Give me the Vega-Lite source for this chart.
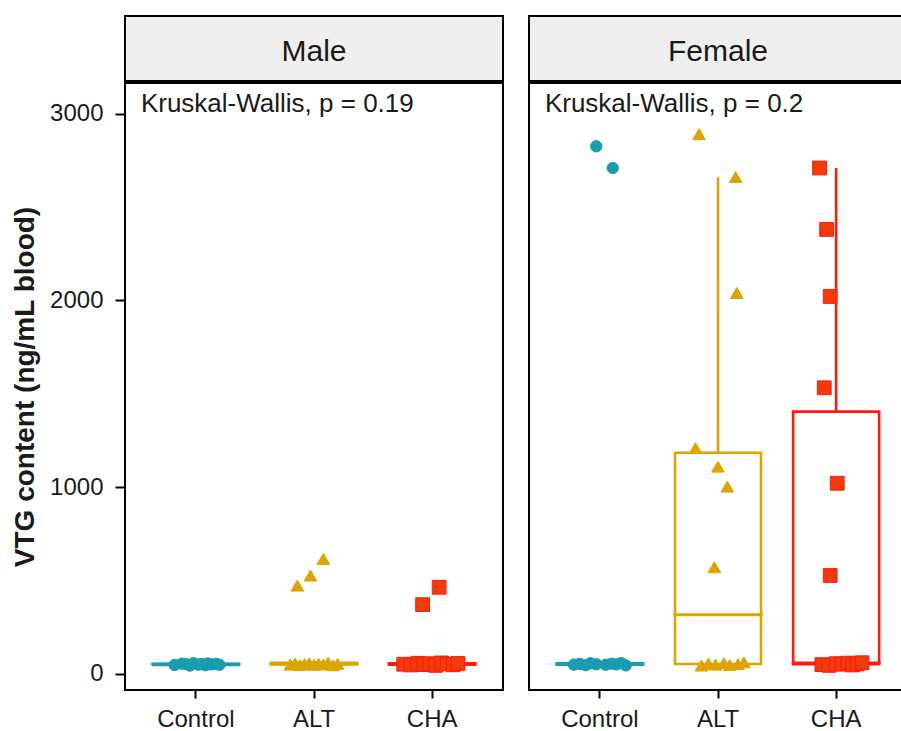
{
  "$schema": "https://vega.github.io/schema/vega-lite/v6.json",
  "padding": {"left": 10, "top": 15, "right": 0, "bottom": 0},
  "background": "white",
  "data": {"values": [
    {"sex": "Male", "group": "Control", "note": "Kruskal-Wallis, p = 0.19"},
    {"sex": "Female", "group": "Control", "note": "Kruskal-Wallis, p = 0.2"},
    {"sex": "Male", "group": "Control", "vtg": 48, "jitter": -0.18},
    {"sex": "Male", "group": "Control", "vtg": 55, "jitter": -0.12},
    {"sex": "Male", "group": "Control", "vtg": 52, "jitter": -0.08},
    {"sex": "Male", "group": "Control", "vtg": 45, "jitter": -0.05},
    {"sex": "Male", "group": "Control", "vtg": 58, "jitter": -0.02},
    {"sex": "Male", "group": "Control", "vtg": 50, "jitter": 0.02},
    {"sex": "Male", "group": "Control", "vtg": 53, "jitter": 0.05},
    {"sex": "Male", "group": "Control", "vtg": 47, "jitter": 0.08},
    {"sex": "Male", "group": "Control", "vtg": 56, "jitter": 0.1},
    {"sex": "Male", "group": "Control", "vtg": 51, "jitter": 0.13},
    {"sex": "Male", "group": "Control", "vtg": 54, "jitter": 0.17},
    {"sex": "Male", "group": "Control", "vtg": 49, "jitter": 0.2},
    {"sex": "Male", "group": "ALT", "vtg": 50, "jitter": -0.2},
    {"sex": "Male", "group": "ALT", "vtg": 56, "jitter": -0.16},
    {"sex": "Male", "group": "ALT", "vtg": 47, "jitter": -0.12},
    {"sex": "Male", "group": "ALT", "vtg": 53, "jitter": -0.08},
    {"sex": "Male", "group": "ALT", "vtg": 58, "jitter": -0.04},
    {"sex": "Male", "group": "ALT", "vtg": 49, "jitter": 0.0},
    {"sex": "Male", "group": "ALT", "vtg": 55, "jitter": 0.04},
    {"sex": "Male", "group": "ALT", "vtg": 51, "jitter": 0.08},
    {"sex": "Male", "group": "ALT", "vtg": 60, "jitter": 0.12},
    {"sex": "Male", "group": "ALT", "vtg": 46, "jitter": 0.16},
    {"sex": "Male", "group": "ALT", "vtg": 54, "jitter": 0.2},
    {"sex": "Male", "group": "ALT", "vtg": 473, "jitter": -0.14},
    {"sex": "Male", "group": "ALT", "vtg": 527, "jitter": -0.03},
    {"sex": "Male", "group": "ALT", "vtg": 616, "jitter": 0.08},
    {"sex": "Male", "group": "CHA", "vtg": 52, "jitter": -0.24},
    {"sex": "Male", "group": "CHA", "vtg": 48, "jitter": -0.18},
    {"sex": "Male", "group": "CHA", "vtg": 57, "jitter": -0.12},
    {"sex": "Male", "group": "CHA", "vtg": 50, "jitter": -0.07},
    {"sex": "Male", "group": "CHA", "vtg": 55, "jitter": -0.02},
    {"sex": "Male", "group": "CHA", "vtg": 46, "jitter": 0.03},
    {"sex": "Male", "group": "CHA", "vtg": 59, "jitter": 0.08},
    {"sex": "Male", "group": "CHA", "vtg": 53, "jitter": 0.13},
    {"sex": "Male", "group": "CHA", "vtg": 49, "jitter": 0.18},
    {"sex": "Male", "group": "CHA", "vtg": 56, "jitter": 0.22},
    {"sex": "Male", "group": "CHA", "vtg": 371, "jitter": -0.08},
    {"sex": "Male", "group": "CHA", "vtg": 464, "jitter": 0.06},
    {"sex": "Female", "group": "Control", "vtg": 50, "jitter": -0.22},
    {"sex": "Female", "group": "Control", "vtg": 54, "jitter": -0.17},
    {"sex": "Female", "group": "Control", "vtg": 47, "jitter": -0.12},
    {"sex": "Female", "group": "Control", "vtg": 57, "jitter": -0.08},
    {"sex": "Female", "group": "Control", "vtg": 52, "jitter": -0.03},
    {"sex": "Female", "group": "Control", "vtg": 49, "jitter": 0.05},
    {"sex": "Female", "group": "Control", "vtg": 55, "jitter": 0.1},
    {"sex": "Female", "group": "Control", "vtg": 51, "jitter": 0.14},
    {"sex": "Female", "group": "Control", "vtg": 58, "jitter": 0.18},
    {"sex": "Female", "group": "Control", "vtg": 46, "jitter": 0.22},
    {"sex": "Female", "group": "Control", "vtg": 2825, "jitter": -0.03},
    {"sex": "Female", "group": "Control", "vtg": 2709, "jitter": 0.11},
    {"sex": "Female", "group": "ALT", "vtg": 45, "jitter": -0.14},
    {"sex": "Female", "group": "ALT", "vtg": 55, "jitter": -0.08},
    {"sex": "Female", "group": "ALT", "vtg": 50, "jitter": -0.02},
    {"sex": "Female", "group": "ALT", "vtg": 58, "jitter": 0.05},
    {"sex": "Female", "group": "ALT", "vtg": 48, "jitter": 0.1},
    {"sex": "Female", "group": "ALT", "vtg": 53, "jitter": 0.17},
    {"sex": "Female", "group": "ALT", "vtg": 62, "jitter": 0.22},
    {"sex": "Female", "group": "ALT", "vtg": 2890, "jitter": -0.16},
    {"sex": "Female", "group": "ALT", "vtg": 2660, "jitter": 0.15},
    {"sex": "Female", "group": "ALT", "vtg": 2040, "jitter": 0.16},
    {"sex": "Female", "group": "ALT", "vtg": 1209, "jitter": -0.19},
    {"sex": "Female", "group": "ALT", "vtg": 1110, "jitter": 0.0},
    {"sex": "Female", "group": "ALT", "vtg": 1003, "jitter": 0.08},
    {"sex": "Female", "group": "ALT", "vtg": 571, "jitter": -0.03},
    {"sex": "Female", "group": "CHA", "vtg": 50, "jitter": -0.12},
    {"sex": "Female", "group": "CHA", "vtg": 46, "jitter": -0.06},
    {"sex": "Female", "group": "CHA", "vtg": 55, "jitter": 0.0},
    {"sex": "Female", "group": "CHA", "vtg": 52, "jitter": 0.05},
    {"sex": "Female", "group": "CHA", "vtg": 58, "jitter": 0.1},
    {"sex": "Female", "group": "CHA", "vtg": 48, "jitter": 0.14},
    {"sex": "Female", "group": "CHA", "vtg": 54, "jitter": 0.18},
    {"sex": "Female", "group": "CHA", "vtg": 60, "jitter": 0.22},
    {"sex": "Female", "group": "CHA", "vtg": 2709, "jitter": -0.14},
    {"sex": "Female", "group": "CHA", "vtg": 2380, "jitter": -0.08},
    {"sex": "Female", "group": "CHA", "vtg": 2021, "jitter": -0.05},
    {"sex": "Female", "group": "CHA", "vtg": 1532, "jitter": -0.1},
    {"sex": "Female", "group": "CHA", "vtg": 1021, "jitter": 0.01},
    {"sex": "Female", "group": "CHA", "vtg": 527, "jitter": -0.05}
  ]},
  "spacing": 24,
  "hconcat": [
    {
      "spacing": 0,
      "vconcat": [
        {
          "width": 378, "height": 65,
          "view": {"fill": "#EFEFEF", "stroke": "black", "strokeWidth": 2},
          "data": {"values": [{"strip": "Male"}]},
          "mark": {"type": "text", "fontSize": 30, "color": "#1a1a1a", "baseline": "middle", "align": "center", "dy": 3},
          "encoding": {"text": {"field": "strip"}}
        },
        {
          "width": 378, "height": 607,
          "encoding": {
            "x": {"field": "group", "type": "nominal", "scale": {"domain": ["Control", "ALT", "CHA"], "paddingInner": 0, "paddingOuter": 0.1},
                  "axis": {"title": null, "labelAngle": 0, "labelFontSize": 24, "tickSize": 8, "labelPadding": 9}}
          },
          "layer": [
            {
              "transform": [{"filter": "datum.sex == 'Male' && isValid(datum.vtg)"}],
              "mark": {"type": "boxplot", "extent": 1.5, "size": 86, "outliers": false, "ticks": false,
                       "box": {"filled": false, "strokeWidth": 2.6}, "median": {"thickness": 0.01, "strokeWidth": 3, "opacity": 1}, "rule": {"strokeWidth": 2.6}},
              "encoding": {
                "y": {"field": "vtg", "type": "quantitative", "scale": {"domain": [-86, 3164], "nice": false, "zero": false},
                      "axis": {"values": [0, 1000, 2000, 3000], "format": "d", "title": "VTG content (ng/mL blood)", "titleFontSize": 28, "titleFontWeight": "bold", "labelFontSize": 24, "tickSize": 10, "labelPadding": 12, "titlePadding": 10}},
                "color": {"field": "group", "type": "nominal", "scale": {"domain": ["Control", "ALT", "CHA"], "range": ["#1A9CB0", "#DCA400", "#FF1A10"]}, "legend": null},
                "stroke": {"field": "group", "type": "nominal", "scale": {"domain": ["Control", "ALT", "CHA"], "range": ["#1A9CB0", "#DCA400", "#FF1A10"]}, "legend": null}
              }
            },
            {
              "transform": [{"filter": "datum.sex == 'Male' && isValid(datum.vtg)"}],
              "mark": {"type": "point", "filled": true, "opacity": 1, "strokeWidth": 1},
              "encoding": {
                "y": {"field": "vtg", "type": "quantitative", "title": "VTG content (ng/mL blood)"},
                "xOffset": {"field": "jitter", "type": "quantitative", "scale": {"domain": [-0.5, 0.5], "range": [0, 118]}},
                "fill": {"field": "group", "type": "nominal", "scale": {"domain": ["Control", "ALT", "CHA"], "range": ["#1A9CB0", "#DCA400", "#F23A0A"]}, "legend": null},
                "stroke": {"field": "group", "type": "nominal", "scale": {"domain": ["Control", "ALT", "CHA"], "range": ["#1A9CB0", "#DCA400", "#FF1A10"]}, "legend": null},
                "shape": {"field": "group", "type": "nominal", "scale": {"domain": ["Control", "ALT", "CHA"], "range": ["circle", "triangle-up", "square"]}, "legend": null},
                "size": {"field": "group", "type": "nominal", "scale": {"domain": ["Control", "ALT", "CHA"], "range": [130, 190, 110]}, "legend": null}
              }
            },
            {
              "transform": [{"filter": "datum.sex == 'Male' && isValid(datum.note)"}],
              "mark": {"type": "text", "align": "left", "baseline": "middle", "fontSize": 26, "color": "#1a1a1a", "dx": -55},
              "encoding": {"y": {"datum": 3052, "type": "quantitative"}, "text": {"field": "note", "type": "nominal"}}
            }
          ]
        }
      ]
    },
    {
      "spacing": 0,
      "vconcat": [
        {
          "width": 378, "height": 65,
          "view": {"fill": "#EFEFEF", "stroke": "black", "strokeWidth": 2},
          "data": {"values": [{"strip": "Female"}]},
          "mark": {"type": "text", "fontSize": 30, "color": "#1a1a1a", "baseline": "middle", "align": "center", "dy": 3},
          "encoding": {"text": {"field": "strip"}}
        },
        {
          "width": 378, "height": 607,
          "encoding": {
            "x": {"field": "group", "type": "nominal", "scale": {"domain": ["Control", "ALT", "CHA"], "paddingInner": 0, "paddingOuter": 0.1},
                  "axis": {"title": null, "labelAngle": 0, "labelFontSize": 24, "tickSize": 8, "labelPadding": 9}}
          },
          "layer": [
            {
              "transform": [{"filter": "datum.sex == 'Female' && isValid(datum.vtg)"}],
              "mark": {"type": "boxplot", "extent": 1.5, "size": 86, "outliers": false, "ticks": false,
                       "box": {"filled": false, "strokeWidth": 2.6}, "median": {"thickness": 0.01, "strokeWidth": 3, "opacity": 1}, "rule": {"strokeWidth": 2.6}},
              "encoding": {
                "y": {"field": "vtg", "type": "quantitative", "scale": {"domain": [-86, 3164], "nice": false, "zero": false}, "axis": null},
                "color": {"field": "group", "type": "nominal", "scale": {"domain": ["Control", "ALT", "CHA"], "range": ["#1A9CB0", "#DCA400", "#FF1A10"]}, "legend": null},
                "stroke": {"field": "group", "type": "nominal", "scale": {"domain": ["Control", "ALT", "CHA"], "range": ["#1A9CB0", "#DCA400", "#FF1A10"]}, "legend": null}
              }
            },
            {
              "transform": [{"filter": "datum.sex == 'Female' && isValid(datum.vtg)"}],
              "mark": {"type": "point", "filled": true, "opacity": 1, "strokeWidth": 1},
              "encoding": {
                "y": {"field": "vtg", "type": "quantitative", "axis": null},
                "xOffset": {"field": "jitter", "type": "quantitative", "scale": {"domain": [-0.5, 0.5], "range": [0, 118]}},
                "fill": {"field": "group", "type": "nominal", "scale": {"domain": ["Control", "ALT", "CHA"], "range": ["#1A9CB0", "#DCA400", "#F23A0A"]}, "legend": null},
                "stroke": {"field": "group", "type": "nominal", "scale": {"domain": ["Control", "ALT", "CHA"], "range": ["#1A9CB0", "#DCA400", "#FF1A10"]}, "legend": null},
                "shape": {"field": "group", "type": "nominal", "scale": {"domain": ["Control", "ALT", "CHA"], "range": ["circle", "triangle-up", "square"]}, "legend": null},
                "size": {"field": "group", "type": "nominal", "scale": {"domain": ["Control", "ALT", "CHA"], "range": [130, 190, 110]}, "legend": null}
              }
            },
            {
              "transform": [{"filter": "datum.sex == 'Female' && isValid(datum.note)"}],
              "mark": {"type": "text", "align": "left", "baseline": "middle", "fontSize": 26, "color": "#1a1a1a", "dx": -55},
              "encoding": {"y": {"datum": 3052, "type": "quantitative", "axis": null}, "text": {"field": "note", "type": "nominal"}}
            }
          ]
        }
      ]
    }
  ],
  "config": {
    "font": "Liberation Sans",
    "view": {"stroke": "black", "strokeWidth": 2},
    "axis": {"grid": false, "domain": false, "tickColor": "black", "tickWidth": 2, "labelColor": "#1a1a1a", "titleColor": "#1a1a1a"}
  }
}
